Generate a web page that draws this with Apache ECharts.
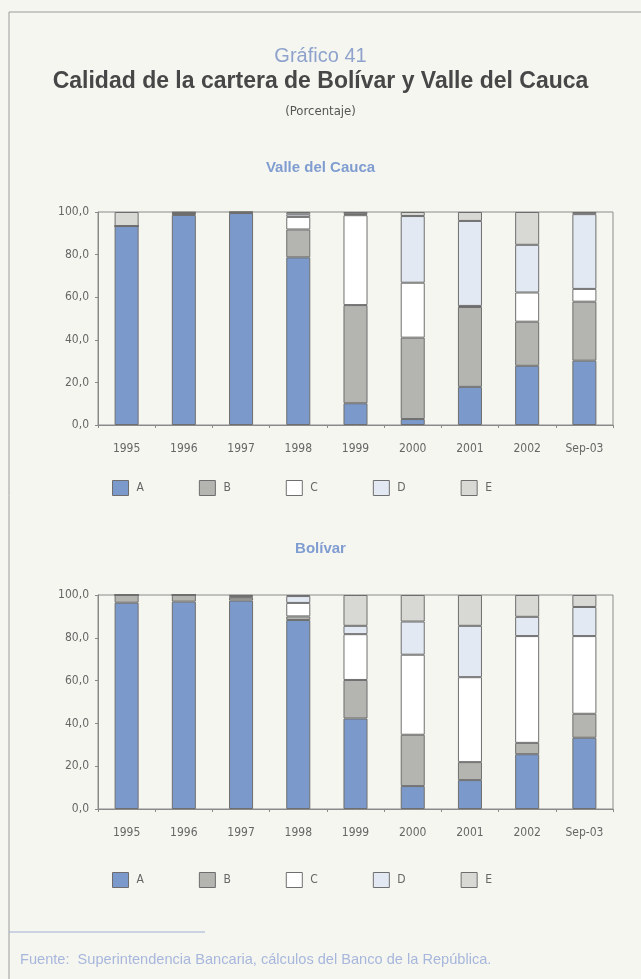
<!DOCTYPE html>
<html>
<head>
<meta charset="utf-8">
<script src="https://cdn.jsdelivr.net/npm/echarts@6/dist/echarts.min.js"></script>
<style>
  html, body { margin: 0; padding: 0; background: #f6f6f1; }
  #chart { width: 641px; height: 979px; }
</style>
</head>
<body>
<div id="chart"></div>
<script>
// Categories shared by both panels
const categories = ['1995', '1996', '1997', '1998', '1999', '2000', '2001', '2002', 'Sep-03'];
const yTicks = [0, 20, 40, 60, 80, 100];

// Valle del Cauca: share of the portfolio by risk rating (%)
const valleA = [93.4, 98.6, 99.5, 78.7, 10.2, 2.8, 17.9, 27.8, 30.2];
const valleB = [0.0, 0.6, 0.2, 13.1, 46.1, 38.2, 37.5, 20.7, 27.7];
const valleC = [0.0, 0.2, 0.1, 5.9, 42.2, 25.8, 0.5, 13.7, 6.0];
const valleD = [0.0, 0.3, 0.1, 1.2, 0.5, 31.3, 39.9, 22.4, 35.1];
const valleE = [6.6, 0.3, 0.1, 1.1, 1.0, 1.9, 4.2, 15.4, 1.0];

// Bolívar: share of the portfolio by risk rating (%)
const bolivarA = [96.4, 96.9, 97.4, 88.3, 42.3, 10.7, 13.5, 25.6, 33.3];
const bolivarB = [3.6, 3.1, 1.4, 1.7, 18.0, 24.0, 8.4, 5.3, 11.2];
const bolivarC = [0.0, 0.0, 0.4, 6.3, 21.4, 37.4, 39.7, 49.9, 36.3];
const bolivarD = [0.0, 0.0, 0.4, 3.2, 3.9, 15.5, 24.0, 9.0, 13.6];
const bolivarE = [0.0, 0.0, 0.4, 0.5, 14.4, 12.4, 14.4, 10.2, 5.6];

const ratings = ['A', 'B', 'C', 'D', 'E'];
const ratingColors = ['#7b9acb', '#b4b4b0', '#ffffff', '#e3e9f3', '#d8d9d5'];

const narrow = "'Liberation Sans Narrow', 'DejaVu Sans Condensed', 'Liberation Sans', sans-serif";
const sans = "'Liberation Sans', Arial, sans-serif";

const panels = [
  { title: 'Valle del Cauca', data: [valleA, valleB, valleC, valleD, valleE], top: 212, height: 213, legendTop: 475, titleTop: 160 },
  { title: 'Bolívar', data: [bolivarA, bolivarB, bolivarC, bolivarD, bolivarE], top: 595, height: 214, legendTop: 867, titleTop: 541 }
];
const plotLeft = 98, plotWidth = 515;

const fmt = v => v.toFixed(1).replace('.', ',');

const grid = [], xAxis = [], yAxis = [], series = [], legend = [], graphic = [];

panels.forEach((p, i) => {
  grid.push({
    left: plotLeft, top: p.top, width: plotWidth, height: p.height,
    show: true, borderColor: '#8a8a8a', borderWidth: 1, backgroundColor: 'transparent'
  });
  xAxis.push({
    type: 'category', gridIndex: i, data: categories,
    axisLine: { lineStyle: { color: '#8a8a8a' } },
    axisTick: { show: true, length: 3, lineStyle: { color: '#8a8a8a' } },
    axisLabel: { color: '#666', fontFamily: narrow, fontSize: 12, margin: 18 }
  });
  yAxis.push({
    type: 'value', gridIndex: i, min: 0, max: 100, interval: 20,
    axisLine: { show: true, lineStyle: { color: '#8a8a8a' } },
    axisTick: { show: true, length: 3, lineStyle: { color: '#8a8a8a' } },
    splitLine: { show: false },
    axisLabel: { color: '#666', fontFamily: narrow, fontSize: 12, margin: 9, formatter: fmt }
  });
  ratings.forEach((r, k) => {
    series.push({
      name: r, type: 'bar', stack: 'panel' + i,
      xAxisIndex: i, yAxisIndex: i,
      data: p.data[k], barWidth: '42%',
      itemStyle: { color: ratingColors[k], borderColor: '#6e6e6e', borderWidth: 1 },
      emphasis: { disabled: true }
    });
  });
  legend.push({
    data: ratings, left: 107, top: p.legendTop, orient: 'horizontal',
    icon: 'rect', itemWidth: 16, itemHeight: 15, itemGap: 55,
    itemStyle: { borderColor: '#6e6e6e', borderWidth: 1 },
    textStyle: { color: '#666', fontFamily: narrow, fontSize: 12, padding: [0, 0, 0, 3] },
    selectedMode: false
  });
  graphic.push({
    type: 'text', left: 'center', top: p.titleTop,
    style: { text: p.title, fill: '#7f9dd0', font: 'bold 15px ' + sans }
  });
});

graphic.push(
  { type: 'line', shape: { x1: 9, y1: 12, x2: 641, y2: 12 }, style: { stroke: '#9a9a9a', lineWidth: 1 } },
  { type: 'line', shape: { x1: 9, y1: 12, x2: 9, y2: 979 }, style: { stroke: '#9a9a9a', lineWidth: 1 } },
  { type: 'line', shape: { x1: 9, y1: 932, x2: 205, y2: 932 }, style: { stroke: '#9fb0d6', lineWidth: 1 } },
  { type: 'text', left: 'center', top: 46, style: { text: 'Gráfico 41', fill: '#8ea2cc', font: '20px ' + sans } },
  { type: 'text', left: 'center', top: 70, style: { text: 'Calidad de la cartera de Bolívar y Valle del Cauca', fill: '#474747', font: 'bold 23px ' + sans } },
  { type: 'text', left: 'center', top: 105, style: { text: '(Porcentaje)', fill: '#555', font: '13px ' + narrow } },
  { type: 'text', left: 20, top: 952, style: { text: 'Fuente:  Superintendencia Bancaria, cálculos del Banco de la República.', fill: '#a7b7dc', font: '14.6px ' + sans } }
);

const chart = echarts.init(document.getElementById('chart'), null, { renderer: 'canvas' });
chart.setOption({
  backgroundColor: '#f6f6f1',
  animation: false,
  grid, xAxis, yAxis, series, legend, graphic
});
</script>
</body>
</html>
